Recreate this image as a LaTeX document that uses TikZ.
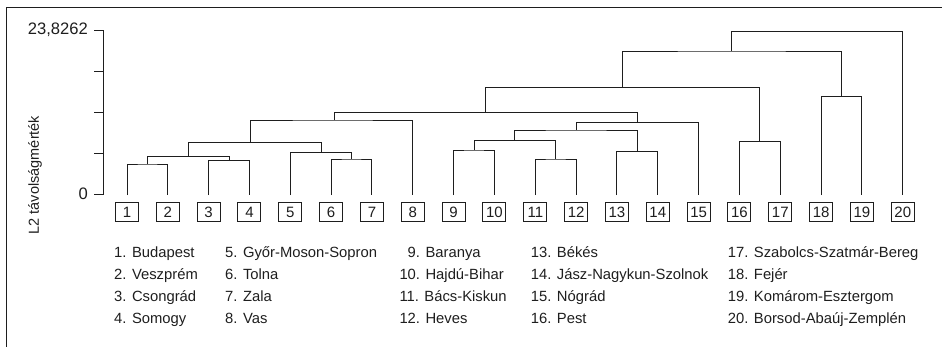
\documentclass[tikz,border=0pt]{standalone}
\usepackage{fontspec}
\setmainfont{Liberation Sans}
\usetikzlibrary{positioning}
\definecolor{inkgray}{RGB}{30,30,30}
\tikzset{
  leafbox/.style={draw=inkgray, line width=1pt, fill=white, inner sep=0pt,
    minimum width=23pt, minimum height=19.5pt, text=inkgray,
    font=\fontsize{15}{18}\selectfont},
  link/.style={draw=inkgray, line width=1pt},
  frameline/.style={draw=inkgray, line width=0.9pt},
  axlabel/.style={inner sep=0pt, text=inkgray, font=\fontsize{14.5}{17}\selectfont},
  axnum/.style={inner sep=0pt, text=inkgray, anchor=east, font=\fontsize{16.6}{19}\selectfont},
  legend/.style={anchor=base west, inner sep=0pt, text=inkgray,
    font=\fontsize{14.8}{18}\selectfont}
}

\begin{document}
\begin{tikzpicture}[x=1pt, y=-1pt]
\useasboundingbox (0,0) rectangle (942,346);
\draw[frameline] (6,360) |- (960,7);

% axis
\coordinate (axtop) at (103,30);
\coordinate (axzero) at (103,194.5);
\draw[link] (axtop) -- (axzero);
\foreach \y in {30,71.1,112.25,153.4,194.5}
  \draw[link] (94,\y) -- (103,\y);
\node[axnum] (ymax) at (88,30) {23,8262};
\node[axnum] (ymin) at (88,194) {0};
\node[axlabel, rotate=90] (ytitle) at (35,175) {L2 távolságmérték};

% leaves
\foreach \i in {1,...,20} {
  \node[leafbox] (l\i) at ({127+(\i-1)*40.83},212) {\i};
  \coordinate (t\i) at ({127+(\i-1)*40.83},195);
}

% merge points
\coordinate (c12) at (147.4,164);
\coordinate (c34) at (229.1,160.7);
\coordinate (c1234) at (188.3,156.7);
\coordinate (c67) at (351.6,159);
\coordinate (c567) at (321,152.5);
\coordinate (c1to7) at (250.7,142.7);
\coordinate (c1to8) at (334,120);
\coordinate (c910) at (474,150);
\coordinate (c1112) at (555.7,159);
\coordinate (c9to12) at (514.9,140.3);
\coordinate (c1314) at (637.4,151.7);
\coordinate (c9to14) at (576.2,130);
\coordinate (c9to15) at (637.4,122.7);
\coordinate (c1to15) at (485.7,112.3);
\coordinate (c1617) at (759.9,141.7);
\coordinate (c1to17) at (622.8,87.3);
\coordinate (c1819) at (841.6,96.7);
\coordinate (c1to19) at (731.5,51);
\coordinate (croot) at (817,31.3);

\draw[link] (t1) |- (c12) -| (t2);
\draw[link] (t3) |- (c34) -| (t4);
\draw[link] (c12) |- (c1234) -| (c34);
\draw[link] (t6) |- (c67) -| (t7);
\draw[link] (t5) |- (c567) -| (c67);
\draw[link] (c1234) |- (c1to7) -| (c567);
\draw[link] (c1to7) |- (c1to8) -| (t8);
\draw[link] (t9) |- (c910) -| (t10);
\draw[link] (t11) |- (c1112) -| (t12);
\draw[link] (c910) |- (c9to12) -| (c1112);
\draw[link] (t13) |- (c1314) -| (t14);
\draw[link] (c9to12) |- (c9to14) -| (c1314);
\draw[link] (c9to14) |- (c9to15) -| (t15);
\draw[link] (c1to8) |- (c1to15) -| (c9to15);
\draw[link] (t16) |- (c1617) -| (t17);
\draw[link] (c1to15) |- (c1to17) -| (c1617);
\draw[link] (t18) |- (c1819) -| (t19);
\draw[link] (c1to17) |- (c1to19) -| (c1819);
\draw[link] (c1to19) |- (croot) -| (t20);

% legend
\foreach \txt [count=\r] in {1. Budapest, 2. Veszprém, 3. Csongrád, 4. Somogy}
  \node[legend] (n\r) at (114,{257.7+21.9*(\r-1)}) {\txt};
\foreach \txt [count=\r from 5] in {5. Győr-Moson-Sopron, 6. Tolna, 7. Zala, 8. Vas}
  \node[legend] (n\r) at (225,{257.7+21.9*(\r-5)}) {\txt};
\foreach \txt [count=\r from 9] in {\hphantom{1}9. Baranya, 10. Hajdú-Bihar, 11. Bács-Kiskun, 12. Heves}
  \node[legend] (n\r) at (399.3,{257.7+21.9*(\r-9)}) {\txt};
\foreach \txt [count=\r from 13] in {13. Békés, 14. Jász-Nagykun-Szolnok, 15. Nógrád, 16. Pest}
  \node[legend] (n\r) at (530.7,{257.7+21.9*(\r-13)}) {\txt};
\foreach \txt [count=\r from 17] in {17. Szabolcs-Szatmár-Bereg, 18. Fejér, 19. Komárom-Esztergom, 20. Borsod-Abaúj-Zemplén}
  \node[legend] (n\r) at (727.7,{257.7+21.9*(\r-17)}) {\txt};
\end{tikzpicture}
\end{document}
